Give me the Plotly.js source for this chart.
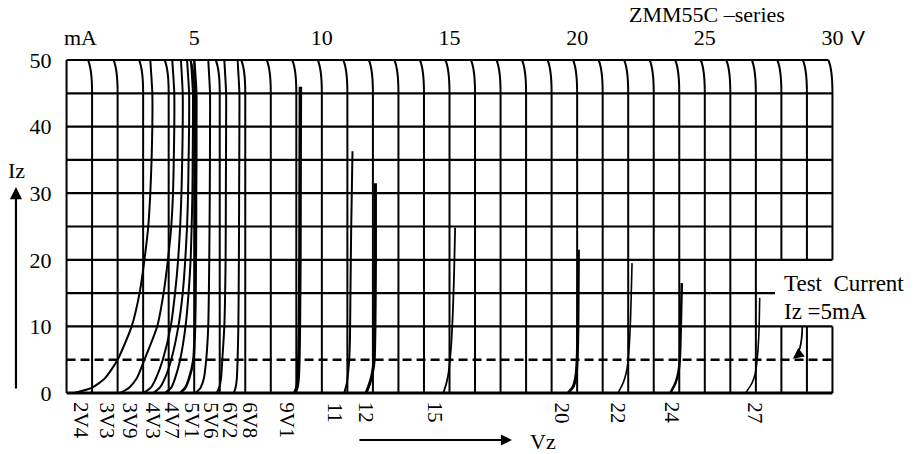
<!DOCTYPE html>
<html><head><meta charset="utf-8">
<script src="https://cdn.plot.ly/plotly-3.0.1.min.js"></script>
<style>html,body{margin:0;padding:0;background:#fff;} #chart{width:915px;height:454px;}</style>
</head><body><div id="chart"></div>
<script>
// ---------------- data ----------------
const diodeNames = ['2V4','3V3','3V9','4V3','4V7','5V1','5V6','6V2','6V8','9V1','11','12','15','20','22','24','27'];

const vz_2V4 = [0.3, 1.0, 1.5, 2.0, 2.55, 2.86, 3.05, 3.2, 3.28, 3.33, 3.36, 3.36, 3.28];
const iz_2V4 = [0, 0.8, 2.2, 5, 10, 15, 20, 25, 30, 35, 40, 45, 50];
const vz_3V3 = [2.1, 2.45, 2.75, 3.05, 3.55, 3.8, 3.97, 4.1, 4.17, 4.2, 4.22, 4.22, 4.14];
const iz_3V3 = [0, 0.8, 2.2, 5, 10, 15, 20, 25, 30, 35, 40, 45, 50];
const vz_3V9 = [3.0, 3.3, 3.5, 3.77, 4.08, 4.25, 4.37, 4.45, 4.5, 4.53, 4.55, 4.55, 4.48];
const iz_3V9 = [0, 0.8, 2.2, 5, 10, 15, 20, 25, 30, 35, 40, 45, 50];
const vz_4V3 = [3.4, 3.65, 3.85, 4.1, 4.38, 4.55, 4.65, 4.72, 4.76, 4.78, 4.8, 4.8, 4.72];
const iz_4V3 = [0, 0.8, 2.2, 5, 10, 15, 20, 25, 30, 35, 40, 45, 50];
const vz_4V7 = [3.85, 4.1, 4.25, 4.45, 4.66, 4.78, 4.86, 4.9, 4.93, 4.94, 4.95, 4.95, 4.87];
const iz_4V7 = [0, 0.8, 2.2, 5, 10, 15, 20, 25, 30, 35, 40, 45, 50];
const vz_5V1 = [4.45, 4.65, 4.8, 4.97, 5.03, 5.05, 5.06, 5.07, 5.07, 5.08, 5.08, 5.08, 5.0];
const iz_5V1 = [0, 0.8, 2.2, 5, 10, 15, 20, 25, 30, 35, 40, 45, 50];
const vz_5V6 = [5.05, 5.25, 5.38, 5.47, 5.55, 5.59, 5.61, 5.62, 5.62, 5.55];
const iz_5V6 = [0, 0.8, 2.2, 5, 10, 20, 30, 40, 45, 50];
const vz_6V2 = [5.88, 5.98, 6.05, 6.1, 6.18, 6.23, 6.24, 6.25, 6.25, 6.18];
const iz_6V2 = [0, 0.8, 2.2, 5, 10, 20, 30, 40, 45, 50];
const vz_6V8 = [6.55, 6.62, 6.67, 6.7, 6.73, 6.75, 6.76, 6.77, 6.77, 6.7];
const iz_6V8 = [0, 0.8, 2.2, 5, 10, 20, 30, 40, 45, 50];
const vz_9V1 = [8.94, 9.02, 9.07, 9.1, 9.12, 9.14, 9.15, 9.16];
const iz_9V1 = [0, 0.8, 2.2, 5, 10, 20, 35, 46];
const vz_11 = [10.88, 10.98, 11.04, 11.07, 11.1, 11.12, 11.15, 11.2];
const iz_11 = [0, 1.5, 3.5, 5, 8, 15, 25, 36.3];
const vz_12 = [11.73, 11.88, 11.98, 12.05, 12.08, 12.1, 12.1];
const iz_12 = [0, 1.5, 3, 5, 10, 20, 31.5];
const vz_15 = [14.76, 14.88, 14.96, 15.02, 15.08, 15.13, 15.18, 15.22];
const iz_15 = [0, 1.5, 3, 5, 8, 12, 18, 24.8];
const vz_20 = [19.65, 19.85, 19.95, 20.0, 20.03, 20.05];
const iz_20 = [0, 1, 2.5, 5, 10, 21.5];
const vz_22 = [21.6, 21.8, 21.92, 22.0, 22.08, 22.15];
const iz_22 = [0, 1.5, 3, 5, 10, 19.5];
const vz_24 = [23.65, 23.85, 23.96, 24.02, 24.06, 24.1];
const iz_24 = [0, 1.5, 3, 5, 10, 16.5];
const vz_27 = [26.6, 26.85, 26.98, 27.05, 27.12, 27.15];
const iz_27 = [0, 1.5, 3, 5, 9, 14.3];

const xTickVals = [5, 10, 15, 20, 25, 30];
const yTickVals = [0, 10, 20, 30, 40, 50];
const testCurrent = 5;
const testLineV = [0, 30];

// ---------------- styles / positions (not data) ----------------
const curveV = [vz_2V4, vz_3V3, vz_3V9, vz_4V3, vz_4V7, vz_5V1, vz_5V6, vz_6V2, vz_6V8, vz_9V1, vz_11, vz_12, vz_15, vz_20, vz_22, vz_24, vz_27];
const curveI = [iz_2V4, iz_3V3, iz_3V9, iz_4V3, iz_4V7, iz_5V1, iz_5V6, iz_6V2, iz_6V8, iz_9V1, iz_11, iz_12, iz_15, iz_20, iz_22, iz_24, iz_27];
const lineWidths = [2, 2, 2, 2, 2, 2.6, 2, 2, 2, 3.5, 2, 3, 1.8, 3, 1.6, 2.5, 1.6];
const labelX = [0.59, 1.57, 2.47, 3.37, 4.12, 4.9, 5.65, 6.39, 7.18, 8.63, 10.5, 11.76, 14.43, 19.41, 21.6, 23.73, 26.98];

const SERIF = 'Liberation Serif, Times New Roman, serif';
const INK = '#000';

const traces = diodeNames.map((n, k) => ({
  type: 'scatter', mode: 'lines', name: n,
  x: curveV[k], y: curveI[k],
  line: {color: INK, width: lineWidths[k], shape: 'spline', smoothing: 0.6},
  hoverinfo: 'skip'
}));
// test-current dashed line
traces.push({type: 'scatter', mode: 'lines', name: 'Test Current',
  x: testLineV, y: testLineV.map(() => testCurrent),
  line: {color: INK, width: 2.5, dash: '9px,5px'}, hoverinfo: 'skip'});

// ---------------- grid (drawn as shapes so the top band can curve) ----------------
const shapes = [];
const gridW = 2;
const bend = 0.16;
for (let v = 0; v <= 30; v++) {
  let p;
  if (v === 0) p = 'M 0,0 L 0,50';
  else if (v >= 28) p = `M ${v},0 L ${v},10 M ${v},20 L ${v},45 Q ${v},48.6 ${v - bend},50`;
  else p = `M ${v},0 L ${v},45 Q ${v},48.6 ${v - bend},50`;
  shapes.push({type: 'path', xref: 'x', yref: 'y', path: p, line: {color: INK, width: gridW}, layer: 'below'});
}
for (let i = 0; i <= 50; i += 5) {
  if (i === testCurrent) continue; // replaced by the dashed test-current line
  let x1 = 30;
  if (i === 15) x1 = 27.75;
  if (i === 50) x1 = 30 - bend;
  shapes.push({type: 'line', xref: 'x', yref: 'y', x0: 0, x1: x1, y0: i, y1: i,
    line: {color: INK, width: i === 0 ? 2.8 : 2.2}, layer: 'below'});
}
// curved pointer from the note to the dashed line
shapes.push({type: 'path', xref: 'x', yref: 'y', path: 'M 28.82,9.9 Q 28.8,6.2 28.52,5.3',
  line: {color: INK, width: 1.8}, layer: 'above'});

// ---------------- annotations ----------------
const ann = [];
diodeNames.forEach((n, k) => ann.push({
  x: labelX[k], xref: 'x', y: -0.015, yref: 'paper', text: n, textangle: 90,
  showarrow: false, xanchor: 'center', yanchor: 'top', font: {family: SERIF, size: 21, color: INK}
}));
ann.push({x: 0.0208, xref: 'paper', y: 1.062, yref: 'paper', text: 'mA', showarrow: false,
  xanchor: 'center', yanchor: 'middle', font: {family: SERIF, size: 22, color: INK}});
ann.push({x: 1.03, xref: 'paper', y: 1.062, yref: 'paper', text: 'V', showarrow: false,
  xanchor: 'center', yanchor: 'middle', font: {family: 'Liberation Sans, Arial, sans-serif', size: 21, color: INK}});
ann.push({x: 0.834, xref: 'paper', y: 1.13, yref: 'paper', text: 'ZMM55C \u2013series', showarrow: false,
  xanchor: 'center', yanchor: 'middle', font: {family: SERIF, size: 22, color: INK}});
ann.push({x: 28.02, xref: 'x', y: 16.37, yref: 'y', text: 'Test\u00a0 Current', showarrow: false,
  xanchor: 'left', yanchor: 'middle', font: {family: SERIF, size: 23, color: INK}});
ann.push({x: 28.02, xref: 'x', y: 12.3, yref: 'y', text: 'Iz =5mA', showarrow: false,
  xanchor: 'left', yanchor: 'middle', font: {family: SERIF, size: 23, color: INK}});
ann.push({x: 28.45, xref: 'x', y: 5.15, yref: 'y', text: '', showarrow: true, ax: 8, ay: -6,
  arrowhead: 2, arrowsize: 1.2, arrowwidth: 1.8, arrowcolor: INK, standoff: 0});
// Iz axis arrow + label
ann.push({x: -0.0623, xref: 'paper', y: 0.617, yref: 'paper', text: '', showarrow: true, ax: 0, ay: 203,
  arrowhead: 2, arrowsize: 1.1, arrowwidth: 2.2, arrowcolor: INK, standoff: 0});
ann.push({x: -0.061, xref: 'paper', y: 0.665, yref: 'paper', text: 'Iz', showarrow: false,
  xanchor: 'center', yanchor: 'middle', font: {family: SERIF, size: 22, color: INK}});
// Vz axis arrow + label
ann.push({x: 0.581, xref: 'paper', y: -0.1335, yref: 'paper', text: '', showarrow: true, ax: -154, ay: 0,
  arrowhead: 2, arrowsize: 1.1, arrowwidth: 2, arrowcolor: INK, standoff: 0});
ann.push({x: 0.621, xref: 'paper', y: -0.139, yref: 'paper', text: 'Vz', showarrow: false,
  xanchor: 'center', yanchor: 'middle', font: {family: SERIF, size: 22, color: INK}});

const layout = {
  width: 915, height: 454,
  margin: {l: 64, r: 80, t: 58, b: 59, pad: 0},
  paper_bgcolor: '#fff', plot_bgcolor: '#fff',
  showlegend: false,
  font: {family: SERIF, size: 22, color: INK},
  xaxis: {range: [-0.1, 30.1], side: 'top', tickvals: xTickVals, ticks: 'outside', ticklen: 3,
    tickcolor: 'rgba(0,0,0,0)', showgrid: false, zeroline: false, showline: false, fixedrange: true,
    tickfont: {family: SERIF, size: 22, color: INK}},
  yaxis: {range: [-0.3, 50.3], tickvals: yTickVals, ticks: 'outside', ticklen: 7,
    tickcolor: 'rgba(0,0,0,0)', showgrid: false, zeroline: false, showline: false, fixedrange: true,
    tickfont: {family: SERIF, size: 22, color: INK}},
  shapes: shapes,
  annotations: ann
};

Plotly.newPlot('chart', traces, layout, {staticPlot: true, displayModeBar: false});
</script>
</body></html>
